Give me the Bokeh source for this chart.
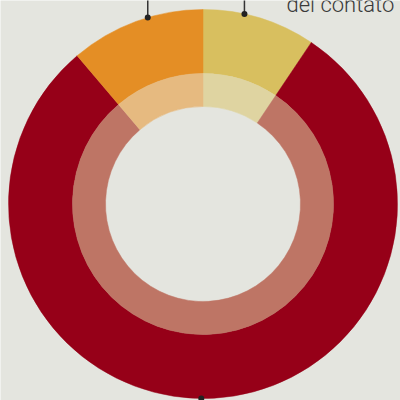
import math
from bokeh.plotting import figure
from bokeh.models import Range1d, Label, ColumnDataSource
from bokeh.embed import file_html
from bokeh.resources import INLINE

# Data (clockwise from 12 o'clock)
categories = ["giallo", "rosso", "arancio"]
outer_values = [9.4, 79.4, 11.2]
inner_values = [9.4, 79.4, 11.2]
outer_colors = ["#D8BF5F", "#960018", "#E48E25"]
inner_colors = ["#DFD4A1", "#BE7565", "#E6BA80"]
# angles (degrees clockwise from top) where leader dots sit
marker_angles = [12.3, 180.5, 343.5]
label_text = "del contato"

BG = "#E4E5DF"
cx, cy = 202.5, 196.5
R_OUT, R_MID, R_IN = 194.5, 130.5, 97.5


def wedges(values):
    total = float(sum(values))
    starts, ends = [], []
    cum = 0.0
    for v in values:
        a0 = cum / total
        cum += v
        a1 = cum / total
        starts.append(math.pi / 2 - a1 * 2 * math.pi)
        ends.append(math.pi / 2 - a0 * 2 * math.pi)
    return starts, ends


p = figure(width=400, height=400, output_backend="svg", toolbar_location=None,
           x_range=Range1d(0, 400), y_range=Range1d(0, 400), min_border=0)
p.background_fill_color = BG
p.border_fill_color = BG
p.outline_line_color = None
p.axis.visible = False
p.grid.visible = False

s, e = wedges(outer_values)
src_o = ColumnDataSource(dict(start=s, end=e, color=outer_colors, cat=categories))
p.annular_wedge(x=cx, y=cy, inner_radius=R_MID, outer_radius=R_OUT,
                start_angle="start", end_angle="end", fill_color="color",
                line_color="color", line_width=0.5, source=src_o)

s, e = wedges(inner_values)
src_i = ColumnDataSource(dict(start=s, end=e, color=inner_colors, cat=categories))
p.annular_wedge(x=cx, y=cy, inner_radius=R_IN, outer_radius=R_MID,
                start_angle="start", end_angle="end", fill_color="color",
                line_color="color", line_width=0.5, source=src_i)

# leader dots and lines
dx, dy = [], []
for a in marker_angles:
    r = math.radians(a)
    dx.append(cx + R_OUT * math.sin(r))
    dy.append(cy + R_OUT * math.cos(r))
for x, y in zip(dx, dy):
    if y > cy:
        p.line([x, x], [y, 410], line_color="#333333", line_width=1.5)
    else:
        p.line([x, x], [y, -10], line_color="#333333", line_width=1.5)
p.scatter(dx, dy, size=6, fill_color="#222222", line_color=None)

p.add_layout(Label(x=286, y=396, text=label_text, text_font="Roboto Light",
                   text_font_size="22px", text_color="#3a3a3a",
                   text_baseline="alphabetic"))

open("out.html", "w").write(file_html(p, INLINE))
